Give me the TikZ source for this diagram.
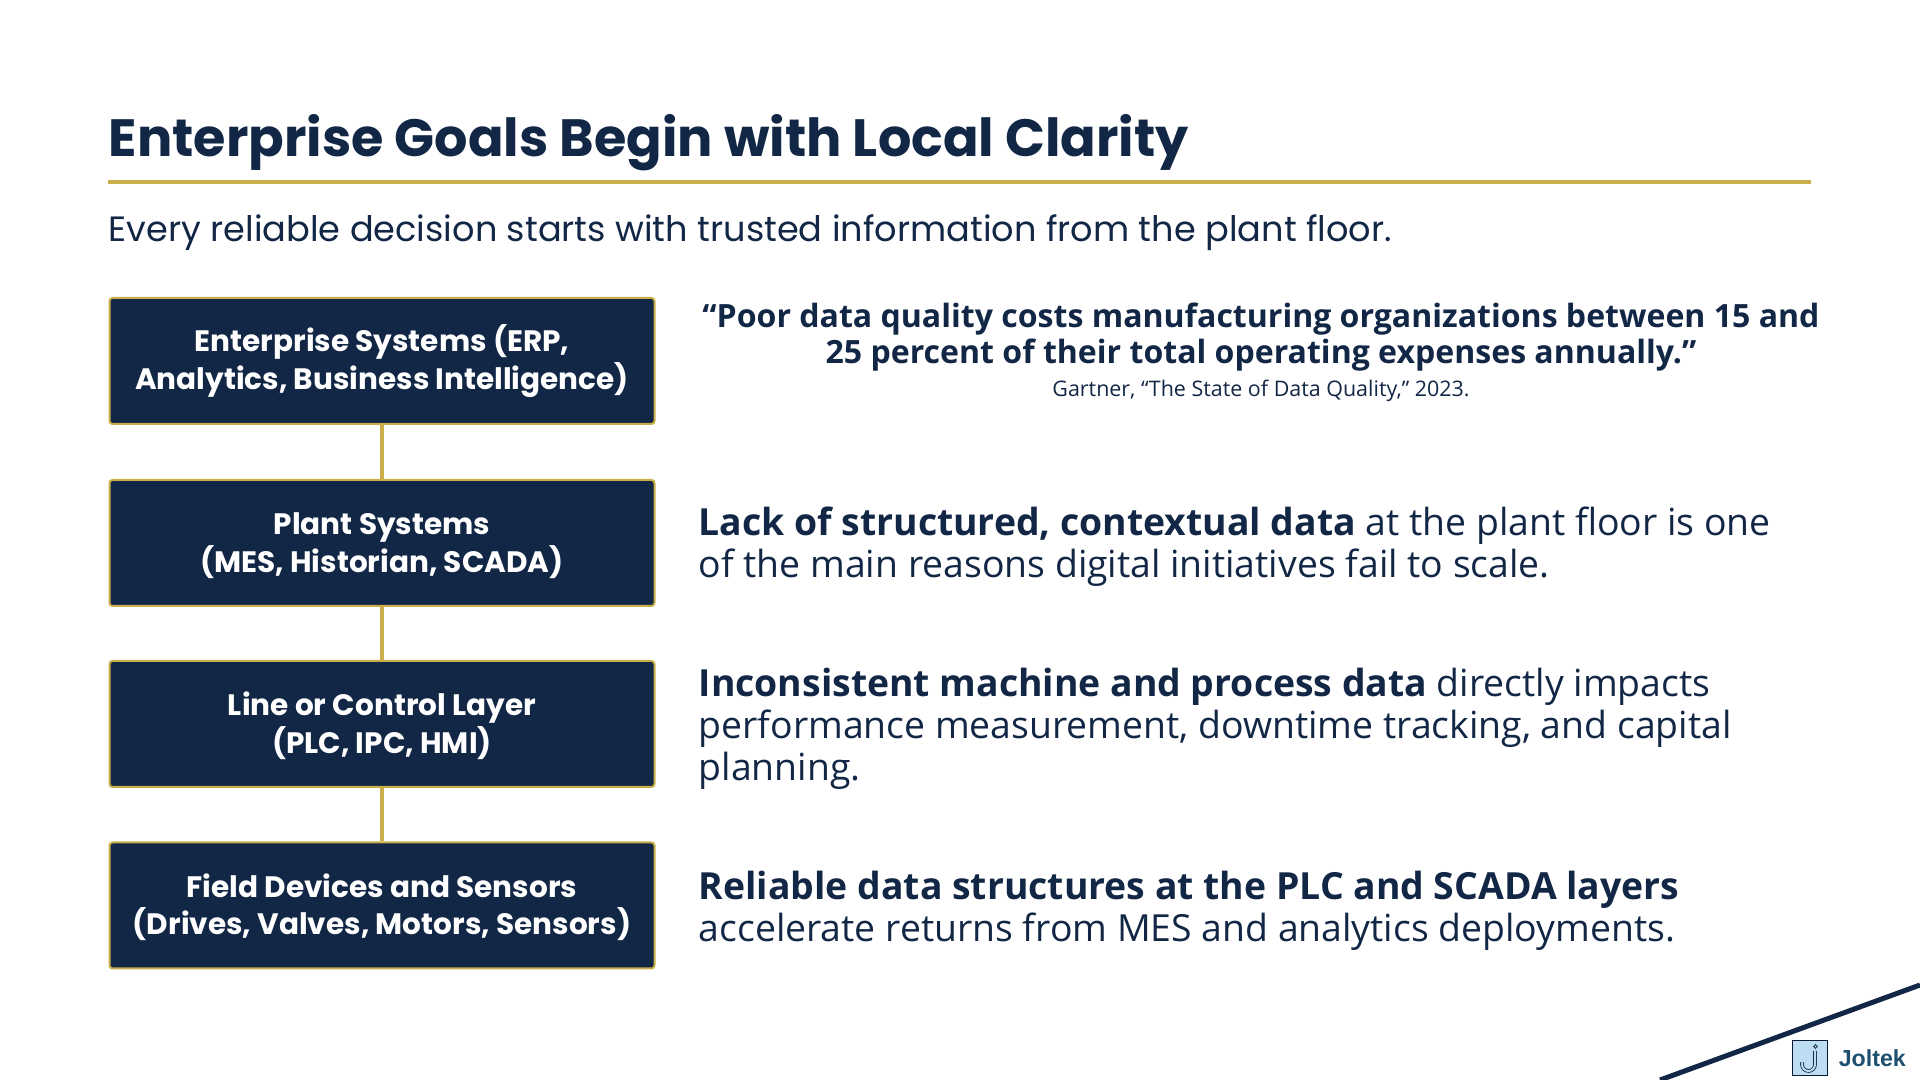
\documentclass[tikz,border=0pt]{standalone}
\usepackage{fontspec}
\setmainfont{Open Sans}
\newfontfamily\headfont{Poppins}
\newfontfamily\logofont{Liberation Sans}
\usetikzlibrary{positioning}
\definecolor{navy}{HTML}{122645}
\definecolor{gold}{HTML}{C9AE4A}
\definecolor{logoblue}{HTML}{1D4F6E}
\definecolor{logofill}{HTML}{BCDDF2}
\tikzset{
  layerbox/.style={draw=gold, line width=0.02cm, fill=navy, rounded corners=0.03cm,
    minimum width=5.45cm, minimum height=1.26cm, inner sep=0pt, align=center, text=white,
    font=\headfont\bfseries\fontsize{8.4}{9.4}\selectfont},
  layerlink/.style={draw=gold, line width=0.04cm},
  bodytext/.style={anchor=west, align=left, inner sep=0pt, text=navy,
    font=\fontsize{10.63}{11.95}\selectfont},
}
\begin{document}
\begin{tikzpicture}
\useasboundingbox (0,0) rectangle (19.2,10.8);
% Heading
\node[anchor=west, inner sep=0pt, text=navy, font=\headfont\bfseries\fontsize{14.93}{17}\selectfont] (title) at (1.08,9.37)
  {Enterprise Goals Begin with Local Clarity};
\coordinate (ruleleft) at (1.08,8.975);
\coordinate (ruleright) at (18.11,8.975);
\draw[layerlink] (ruleleft) -- (ruleright);
\node[anchor=west, inner sep=0pt, text=navy, font=\headfont\fontsize{10}{11}\selectfont] (subtitle) at (1.08,8.475)
  {Every reliable decision starts with trusted information from the plant floor.};
% Stack of layers
\node[layerbox] (enterprise) at (3.82,7.19) {Enterprise Systems (ERP,\\Analytics, Business Intelligence)};
\node[layerbox] (plant) at (3.82,5.37) {\vphantom{(}Plant Systems\\(MES, Historian, SCADA)};
\node[layerbox] (line) at (3.82,3.56) {\vphantom{(}Line or Control Layer\\(PLC, IPC, HMI)};
\node[layerbox] (field) at (3.82,1.745) {\vphantom{(}Field Devices and Sensors\\(Drives, Valves, Motors, Sensors)};
\draw[layerlink] (enterprise) -- (plant);
\draw[layerlink] (plant) -- (line);
\draw[layerlink] (line) -- (field);
% Quote
\node[align=center, inner sep=0pt, text=navy, font=\bfseries\fontsize{9.12}{10.2}\selectfont] (quote) at (12.61,7.43)
  {“Poor data quality costs manufacturing organizations between 15 and\\25 percent of their total operating expenses annually.”};
\node[inner sep=0pt, text=navy, font=\fontsize{6.1}{7}\selectfont] (source) at (12.61,6.895)
  {Gartner, “The State of Data Quality,” 2023.};
% Statements
\node[bodytext] (lack) at (6.98,5.33) {\textbf{Lack of structured, contextual data} at the plant floor is one\\of the main reasons digital initiatives fail to scale.};
\node[bodytext] (incons) at (6.98,3.51) {\textbf{Inconsistent machine and process data} directly impacts\\performance measurement, downtime tracking, and capital\\planning.};
\node[bodytext] (reliable) at (6.98,1.69) {\textbf{Reliable data structures at the PLC and SCADA layers}\\accelerate returns from MES and analytics deployments.};
% Corner line and logo
\draw[navy, line width=0.05cm] (16.6,0) -- (19.2,0.95);
\node[draw=navy!70!black, line width=0.012cm, fill=logofill, minimum size=0.35cm, inner sep=0pt] (logo) at (18.1,0.22) {};
\draw[navy, line width=0.008cm, double=logofill, double distance=0.02cm] (18.15,0.29) -- (18.15,0.155) arc (0:-180:0.065) -- ++(0,0.02);
\draw[navy, line width=0.008cm] (18.155,0.335) circle (0.018);
\node[right=0.1cm of logo, inner sep=0pt, text=logoblue, font=\logofont\bfseries\fontsize{6.6}{7}\selectfont] (joltek) {Joltek};
\end{tikzpicture}
\end{document}
